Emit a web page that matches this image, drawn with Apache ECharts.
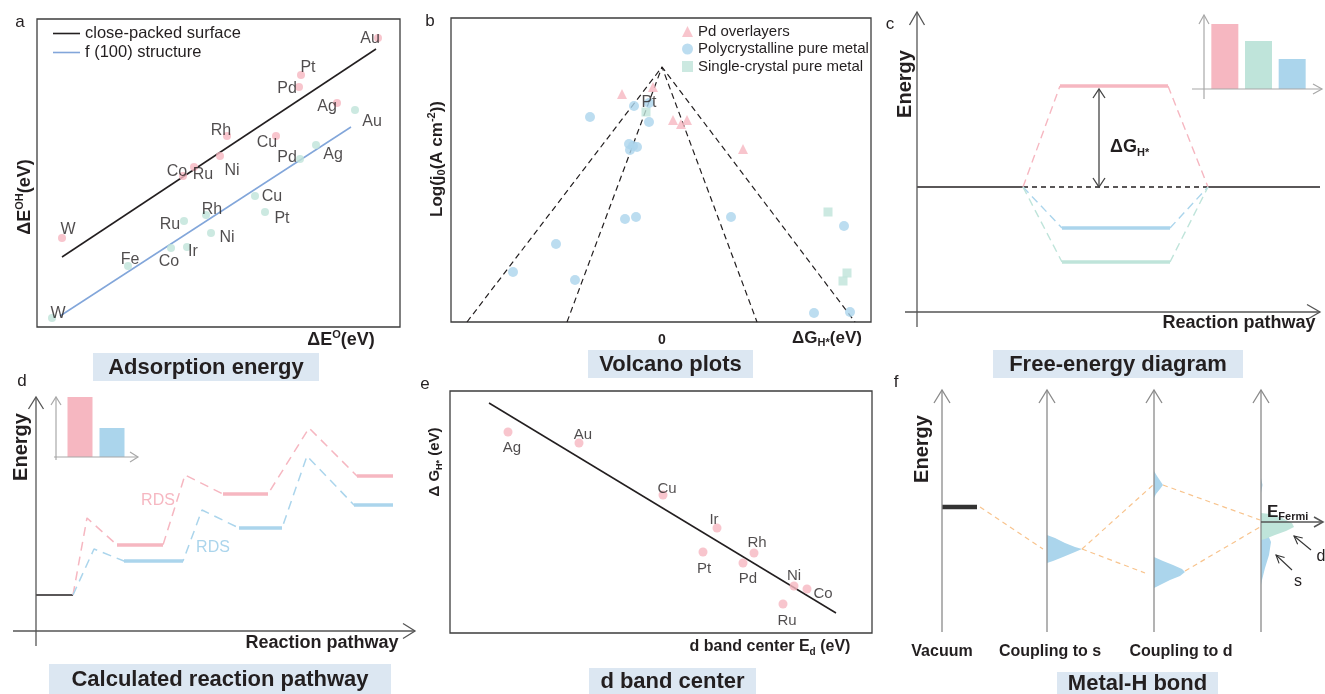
<!DOCTYPE html>
<html><head><meta charset="utf-8">
<script src="https://cdn.jsdelivr.net/npm/echarts@6/dist/echarts.min.js"></script>
<style>html,body{margin:0;padding:0;background:#fff}#c{width:1325px;height:694px}</style>
</head><body><div id="c"></div>
<script>
// ---------- Panel a: adsorption energy scaling ----------
var aCloseNames = ['Au','Pt','Pd','Ag','Rh','Cu','Ni','Ru','Co','W'];
var aCloseX = [34.1,26.4,26.2,30.0,19.0,23.9,18.3,15.7,14.6,2.5];
var aCloseY = [28.9,25.2,24.0,22.4,19.1,19.1,17.1,16.0,15.1,8.9];
var aCloseFitX = [2.5,33.9];
var aCloseFitY = [7.0,27.8];
var aF100Names = ['Au','Ag','Pd','Cu','Pt','Rh','Ru','Ni','Ir','Co','Fe','W'];
var aF100X = [31.8,27.9,26.3,21.8,22.8,16.9,14.7,17.4,15.0,13.4,9.1,1.5];
var aF100Y = [21.7,18.2,16.8,13.1,11.5,11.2,10.6,9.4,8.0,7.9,6.1,0.9];
var aF100FitX = [2.3,31.4];
var aF100FitY = [1.1,20.0];

// ---------- Panel b: volcano plot ----------
var bTriX = [-0.40,-0.09,0.11,0.19,0.25,0.81];
var bTriY = [22.8,23.5,20.2,19.8,20.2,17.3];
var bPolyX = [-0.28,-0.13,-0.13,-0.72,-0.33,-0.25,-0.32,-0.29,-0.37,-0.26,0.69,1.82,-1.06,-1.49,-0.87,1.52,1.88];
var bPolyY = [21.6,21.9,20.0,20.5,17.8,17.5,17.2,17.6,10.3,10.5,10.5,9.6,7.8,5.0,4.2,0.9,1.0];
var bSingleX = [-0.16,1.66,1.85,1.81];
var bSingleY = [21.0,11.0,4.9,4.1];
var bOuterX = [-1.95,0,1.93];
var bOuterY = [0,25.5,0];
var bInnerX = [-0.95,0,0.95];
var bInnerY = [0,25.5,0];

// ---------- Panel c: free-energy diagram ----------
var cBaseE = 12.5;
var cBaseSpan = [10.6,29.1];
var cAxisEnd = 40.3;
var cLevelE = [22.6,8.4,5.0];
var cLevelStart = [14.3,14.5,14.5];
var cLevelEnd = [25.1,25.3,25.3];
var cInsetCats = ['1','2','3'];
var cInsetVals = [6.5,4.8,3.0];

// ---------- Panel d: reaction pathway ----------
var dStartX = [0,3.7];
var dStartY = [3.6,3.6];
var dPinkX = [3.7,5.1,8.1,12.7,14.9,18.7,23.2,27.3,32.1,35.7];
var dPinkY = [3.6,11.3,8.6,8.6,15.6,13.7,13.7,20.3,15.5,15.5];
var dBlueX = [3.7,5.8,8.8,14.7,16.6,20.3,24.6,27.1,31.8,35.7];
var dBlueY = [3.6,8.2,7.0,7.0,12.1,10.3,10.3,17.5,12.6,12.6];
var dInsetCats = ['1','2'];
var dInsetVals = [6.0,2.9];

// ---------- Panel e: d-band center ----------
var eNames = ['Ag','Au','Cu','Ir','Pt','Rh','Pd','Ni','Co','Ru'];
var eX = [5.8,12.9,21.3,26.7,25.3,30.4,29.3,34.4,35.7,33.3];
var eY = [20.1,19.0,13.8,10.5,8.1,8.0,7.0,4.7,4.4,2.9];
var eFitX = [3.9,38.6];
var eFitY = [23.0,2.0];

// ---------- Panel f: metal-H bond ----------
var fVacuumX = [0,3.5];
var fVacuumY = [12.5,12.5];
var fLinkX = [[3.8,10.1],[14.0,20.3],[14.0,21.1],[22.1,31.8],[24.3,31.8]];
var fLinkY = [[12.5,8.3],[8.3,5.9],[8.3,14.7],[14.7,11.2],[6.1,10.5]];
var fPeakS_X = [10.5,11.3,12.3,13.3,14.0,13.3,12.1,11.1,10.5];
var fPeakS_Y = [9.7,9.4,8.9,8.5,8.3,8.0,7.5,7.1,6.9];
var fPeakDup_X = [21.2,21.5,21.9,22.1,21.8,21.4,21.2];
var fPeakDup_Y = [16.1,15.6,15.0,14.7,14.3,13.8,13.4];
var fPeakDlow_X = [21.2,22.1,23.1,24.0,24.3,23.8,22.8,21.8,21.2];
var fPeakDlow_Y = [7.5,7.1,6.7,6.3,6.0,5.6,5.2,4.7,4.4];
var fFinalD_X = [31.9,32.8,34.0,35.0,35.2,34.4,33.3,32.3,31.9];
var fFinalD_Y = [11.9,11.8,11.4,10.9,10.5,10.1,9.7,9.3,9.2];
var fFinalS_X = [31.9,32.3,32.6,32.9,32.7,32.3,32.0,31.9];
var fFinalS_Y = [11.7,10.7,9.7,9.0,7.7,6.4,5.2,4.7];
var fFinalSTop_X = [31.9,32.05,31.9];
var fFinalSTop_Y = [15.4,14.7,13.9];

// ---------- label placement (layout only) ----------
var aCloseLabelOffset = [[-8,1],[7,-7],[-12,2],[-10,4],[-6,-5],[-9,7],[12,15],[9,8],[-6,-4],[6,-8]];
var aF100LabelOffset = [[17,12],[17,10],[-13,-1],[17,1],[17,7],[6,-5],[-14,4],[16,5],[6,5],[-2,14],[2,-6],[6,-4]];
var eLabelOffset = [[4,16],[4,-8],[4,-6],[-3,-8],[1,17],[3,-10],[5,16],[0,-10],[16,5],[4,17]];

// ---------- styles ----------
var FONT = '"Liberation Sans", Arial, Helvetica, sans-serif';
var TXT = '#231f20';
var PINK = '#f6b7c1';
var GREEN = '#bfe4da';
var BLUE = '#abd5ec';
var LBLUE = '#82a6da';
var ORANGE = '#f8c48e';
var TBG = '#dce7f2';

function zip(xs, ys){ return xs.map(function(x,i){ return [x, ys[i]]; }); }
function labeled(names, xs, ys, offs, size){
  return names.map(function(n,i){
    return {name:n, value:[xs[i], ys[i]], label:{show:true, position:'inside', offset:offs[i], formatter:n,
      color:TXT, fontFamily:FONT, fontSize:size}};
  });
}
function vAx(i, min, max){ return {gridIndex:i, type:'value', min:min, max:max, show:false}; }
function cAx(i, cats){ return {gridIndex:i, type:'category', data:cats, show:false}; }
function lineS(g, data, color, width, dash, name){
  return {type:'line', name:name, xAxisIndex:g, yAxisIndex:g, data:data, symbol:'none', silent:true,
    color:color, lineStyle:{color:color, width:width, type:dash ? dash : 'solid'}, animation:false, z:2};
}
function polyS(g, pts, color, z){
  return {type:'custom', coordinateSystem:'cartesian2d', xAxisIndex:g, yAxisIndex:g, data:pts, silent:true, z:z||3,
    animation:false,
    renderItem:function(params, api){
      if (params.dataIndex !== 0) return null;
      var p = pts.map(function(d){ return api.coord(d); });
      return {type:'polygon', shape:{points:p, smooth:0}, style:{fill:color, stroke:null}};
    }};
}

var grids = [
  {left:37, top:19, width:363, height:308, show:true, borderColor:'#3d3d3d', borderWidth:1.3},
  {left:451, top:18, width:420, height:304, show:true, borderColor:'#3d3d3d', borderWidth:1.3},
  {left:917, top:12, width:403, height:300},
  {left:1208, top:15, width:101, height:74},
  {left:36, top:397, width:379, height:234},
  {left:64, top:397, width:64, height:60},
  {left:450, top:391, width:422, height:242, show:true, borderColor:'#3d3d3d', borderWidth:1.3},
  {left:942, top:390, width:383, height:242}
];
grids.forEach(function(g){ g.outerBoundsMode = 'none'; g.containLabel = false; });

var xAxes = [vAx(0,0,36.3), vAx(1,-2.11,2.09), vAx(2,0,40.3), cAx(3,cInsetCats), vAx(4,0,37.9), cAx(5,dInsetCats), vAx(6,0,42.2), vAx(7,0,38.3)];
var yAxes = [vAx(0,0,30.8), vAx(1,0,30.4), vAx(2,0,30), vAx(3,0,7.4), vAx(4,0,23.4), vAx(5,0,6.0), vAx(6,0,24.2), vAx(7,0,24.2)];

var series = [];
// a
series.push(lineS(0, zip(aCloseFitX, aCloseFitY), '#231f20', 1.5, null, 'close-packed surface'));
series.push(lineS(0, zip(aF100FitX, aF100FitY), LBLUE, 1.5, null, 'f (100) structure'));
series.push({type:'scatter', xAxisIndex:0, yAxisIndex:0, symbolSize:8, itemStyle:{color:PINK}, z:3,
  data:labeled(aCloseNames, aCloseX, aCloseY, aCloseLabelOffset, 16)});
series.push({type:'scatter', xAxisIndex:0, yAxisIndex:0, symbolSize:8, itemStyle:{color:GREEN}, z:3,
  data:labeled(aF100Names, aF100X, aF100Y, aF100LabelOffset, 16)});
// b
series.push(lineS(1, zip(bOuterX, bOuterY), '#231f20', 1.2, [6,4]));
series.push(lineS(1, zip(bInnerX, bInnerY), '#231f20', 1.2, [6,4]));
series.push({type:'scatter', name:'Pd overlayers', xAxisIndex:1, yAxisIndex:1, symbol:'triangle', symbolSize:10,
  itemStyle:{color:PINK}, data:zip(bTriX, bTriY), z:3});
series.push({type:'scatter', name:'Single-crystal pure metal', xAxisIndex:1, yAxisIndex:1, symbol:'rect', symbolSize:9,
  itemStyle:{color:GREEN}, data:zip(bSingleX, bSingleY), z:3});
series.push({type:'scatter', name:'Polycrystalline pure metal', xAxisIndex:1, yAxisIndex:1, symbol:'circle', symbolSize:10,
  itemStyle:{color:BLUE}, z:4,
  data:zip(bPolyX, bPolyY).map(function(v,i){
    return i === 1 ? {value:v, label:{show:true, position:'inside', formatter:'Pt', color:TXT, fontFamily:FONT, fontSize:16}} : v;
  })});
// c
series.push(lineS(2, [[0,cBaseE],[cBaseSpan[0],cBaseE]], '#231f20', 1.3));
series.push(lineS(2, [[cBaseSpan[0],cBaseE],[cBaseSpan[1],cBaseE]], '#231f20', 1.3, [5,4]));
series.push(lineS(2, [[cBaseSpan[1],cBaseE],[cAxisEnd,cBaseE]], '#231f20', 1.3));
var cCols = [PINK, BLUE, GREEN];
cLevelE.forEach(function(e,i){
  series.push(lineS(2, [[cBaseSpan[0],cBaseE],[cLevelStart[i],e]], cCols[i], 1.4, [8,5]));
  series.push(lineS(2, [[cLevelEnd[i],e],[cBaseSpan[1],cBaseE]], cCols[i], 1.4, [8,5]));
  series.push(lineS(2, [[cLevelStart[i],e],[cLevelEnd[i],e]], cCols[i], 3.5));
});
series.push({type:'bar', xAxisIndex:3, yAxisIndex:3, barWidth:27, silent:true,
  data:cInsetVals.map(function(v,i){ return {value:v, itemStyle:{color:cCols[[0,2,1][i]]}}; })});
// d
series.push(lineS(4, zip(dStartX, dStartY), '#231f20', 1.5));
function plateaus(xs, ys){
  var out = [];
  for (var i=0;i<xs.length-1;i++){ if (ys[i]===ys[i+1]) out.push([[xs[i],ys[i]],[xs[i+1],ys[i+1]]]); }
  return out;
}
series.push(lineS(4, zip(dPinkX, dPinkY), PINK, 1.5, [9,6]));
series.push(lineS(4, zip(dBlueX, dBlueY), BLUE, 1.5, [9,6]));
plateaus(dPinkX, dPinkY).forEach(function(s){ series.push(lineS(4, s, PINK, 3.5)); });
plateaus(dBlueX, dBlueY).forEach(function(s){ series.push(lineS(4, s, BLUE, 3.5)); });
series.push({type:'bar', xAxisIndex:5, yAxisIndex:5, barWidth:25, silent:true,
  data:dInsetVals.map(function(v,i){ return {value:v, itemStyle:{color:[PINK,BLUE][i]}}; })});
// e
series.push(lineS(6, zip(eFitX, eFitY), '#231f20', 1.5));
series.push({type:'scatter', xAxisIndex:6, yAxisIndex:6, symbolSize:9, itemStyle:{color:PINK}, z:3,
  data:labeled(eNames, eX, eY, eLabelOffset, 15)});
// f
fLinkX.forEach(function(xs,i){ series.push(lineS(7, zip(xs, fLinkY[i]), ORANGE, 1.2, [5,4])); });
series.push(lineS(7, zip(fVacuumX, fVacuumY), '#333333', 4.5));
series.push(polyS(7, zip(fPeakS_X, fPeakS_Y), BLUE, 3));
series.push(polyS(7, zip(fPeakDup_X, fPeakDup_Y), BLUE, 3));
series.push(polyS(7, zip(fPeakDlow_X, fPeakDlow_Y), BLUE, 3));
series.push(polyS(7, zip(fFinalS_X, fFinalS_Y), BLUE, 3));
series.push(polyS(7, zip(fFinalSTop_X, fFinalSTop_Y), BLUE, 3));
series.push(polyS(7, zip(fFinalD_X, fFinalD_Y), GREEN, 4));

// ---------- decoration (graphic) ----------
var G = [];
function gl(x1,y1,x2,y2,color,w,dash){ G.push({type:'line', silent:true, z:10, shape:{x1:x1,y1:y1,x2:x2,y2:y2}, style:{stroke:color, lineWidth:w, lineDash:dash||null}}); }
function chev(x,y,dx,dy,len,spread,color,w){
  var L=Math.sqrt(dx*dx+dy*dy), ux=dx/L, uy=dy/L, px=-uy, py=ux, bx=x-ux*len, by=y-uy*len;
  G.push({type:'polyline', silent:true, z:10, shape:{points:[[bx+px*spread,by+py*spread],[x,y],[bx-px*spread,by-py*spread]]},
    style:{stroke:color, lineWidth:w, fill:null}});
}
function arrow(x1,y1,x2,y2,color,w,len,spread,both){
  gl(x1,y1,x2,y2,color,w);
  chev(x2,y2,x2-x1,y2-y1,len,spread,color,w);
  if (both) chev(x1,y1,x1-x2,y1-y2,len,spread,color,w);
}
function tx(x,y,text,opt){
  opt = opt || {};
  var st = {text:text, fontFamily:FONT, fontSize:opt.size||15, fontWeight:opt.bold?'bold':'normal', fill:opt.color||TXT,
    align:opt.align||'center', verticalAlign:opt.va||'middle'};
  if (opt.rich) st.rich = opt.rich;
  G.push({type:'text', x:x, y:y, rotation:opt.rot||0, silent:true, z:11, style:st});
}
function richSet(size){
  return {
    m:{fontFamily:FONT, fontSize:size, fontWeight:'bold', fill:TXT, lineHeight:size+4},
    sup:{fontFamily:FONT, fontSize:Math.round(size*0.62), fontWeight:'bold', fill:TXT, verticalAlign:'top', lineHeight:size+4},
    sub:{fontFamily:FONT, fontSize:Math.round(size*0.62), fontWeight:'bold', fill:TXT, verticalAlign:'bottom', lineHeight:size+4}
  };
}
function title(x1,y1,x2,y2,text){
  G.push({type:'rect', silent:true, z:9, shape:{x:x1,y:y1,width:x2-x1,height:y2-y1}, style:{fill:TBG}});
  tx((x1+x2)/2, (y1+y2)/2+1, text, {size:22, bold:true});
}
var AX = '#555555', GR = '#8a8a8a', LG = '#a8a8a8';
var R90 = Math.PI/2;

// panel labels
tx(20,22,'a',{size:17}); tx(430,21,'b',{size:17}); tx(890,24,'c',{size:17});
tx(22,381,'d',{size:17}); tx(425,384,'e',{size:17}); tx(896,382,'f',{size:17});

// a titles
tx(25,197,'{m|ΔE}{sup|OH}{m|(eV)}',{rot:R90, rich:richSet(18)});
tx(341,340,'{m|ΔE}{sup|O}{m|(eV)}',{rich:richSet(18)});
title(93,353,319,381,'Adsorption energy');
// b titles
tx(437,159,'{m|Log(j}{sub|0}{m|(A cm}{sup|-2}{m|))}',{rot:R90, rich:richSet(17)});
tx(662,340,'0',{size:14, bold:true});
tx(827,338,'{m|ΔG}{sub|H*}{m|(eV)}',{rich:richSet(17)});
title(588,350,753,378,'Volcano plots');
// c
gl(917,12,917,327,AX,1.3); chev(917,12,0,-1,13,7.5,AX,1.3);
gl(905,312,1320,312,AX,1.3); chev(1320,312,1,0,13,7.5,AX,1.3);
tx(905,84,'Energy',{size:20, bold:true, rot:R90});
tx(1239,323,'Reaction pathway',{size:18, bold:true});
arrow(1099,187,1099,89,'#444',1.3,9,6,true);
tx(1110,147,'{m|ΔG}{sub|H*}',{align:'left', rich:richSet(18)});
gl(1204,15,1204,99,LG,1.2); chev(1204,15,0,-1,9,5,LG,1.2);
gl(1192,89,1322,89,LG,1.2); chev(1322,89,1,0,9,5,LG,1.2);
title(993,350,1243,378,'Free-energy diagram');
// d
gl(36,397,36,646,AX,1.3); chev(36,397,0,-1,12,7.5,AX,1.3);
gl(13,631,415,631,AX,1.3); chev(415,631,1,0,12,7.5,AX,1.3);
tx(21,447,'Energy',{size:20, bold:true, rot:R90});
tx(322,643,'Reaction pathway',{size:18, bold:true});
tx(158,501,'RDS',{size:16, color:PINK});
tx(213,548,'RDS',{size:16, color:BLUE});
gl(56,397,56,460,LG,1.2); chev(56,397,0,-1,8,5,LG,1.2);
gl(54,457,138,457,LG,1.2); chev(138,457,1,0,8,5,LG,1.2);
title(49,664,391,694,'Calculated reaction pathway');
// e
tx(435,462,'{m|Δ G}{sub|H*}{m| (eV)}',{rot:R90, rich:richSet(15)});
tx(770,647,'{m|d band center E}{sub|d}{m| (eV)}',{rich:richSet(16)});
title(589,668,756,694,'d band center');
// f
[942,1047,1154,1261].forEach(function(x){ gl(x,390,x,632,GR,1.3); chev(x,390,0,-1,13,8,GR,1.3); });
tx(922,449,'Energy',{size:20, bold:true, rot:R90});
tx(942,652,'Vacuum',{size:16, bold:true});
tx(1050,652,'Coupling to s',{size:16, bold:true});
tx(1181,652,'Coupling to d',{size:16, bold:true});
arrow(1261,522,1323,522,'#555',1.5,9,5);
tx(1267,512,'{m|E}{sub|Fermi}',{align:'left', rich:richSet(17)});
arrow(1311,550,1294,536,'#333',1.1,8,4);
arrow(1292,570,1276,555,'#333',1.1,8,4);
tx(1321,557,'d',{size:16});
tx(1298,582,'s',{size:16});
title(1057,672,1218,694,'Metal-H bond');

var chart = echarts.init(document.getElementById('c'), null, {renderer:'canvas'});
chart.setOption({
  animation:false,
  backgroundColor:'#ffffff',
  textStyle:{fontFamily:FONT},
  grid:grids, xAxis:xAxes, yAxis:yAxes,
  legend:[
    {data:['close-packed surface','f (100) structure'], left:53, top:25, padding:0, orient:'vertical', icon:'rect', itemWidth:27, itemHeight:1.6,
      itemGap:2, textStyle:{fontFamily:FONT, fontSize:16.5, lineHeight:17, color:TXT}, selectedMode:false},
    {data:['Pd overlayers','Polycrystalline pure metal','Single-crystal pure metal'], left:682, top:24, padding:0, orient:'vertical',
      itemWidth:11, itemHeight:11, itemGap:2.5, textStyle:{fontFamily:FONT, fontSize:15, lineHeight:15, color:TXT}, selectedMode:false}
  ],
  series:series,
  graphic:G
});
</script></body></html>
